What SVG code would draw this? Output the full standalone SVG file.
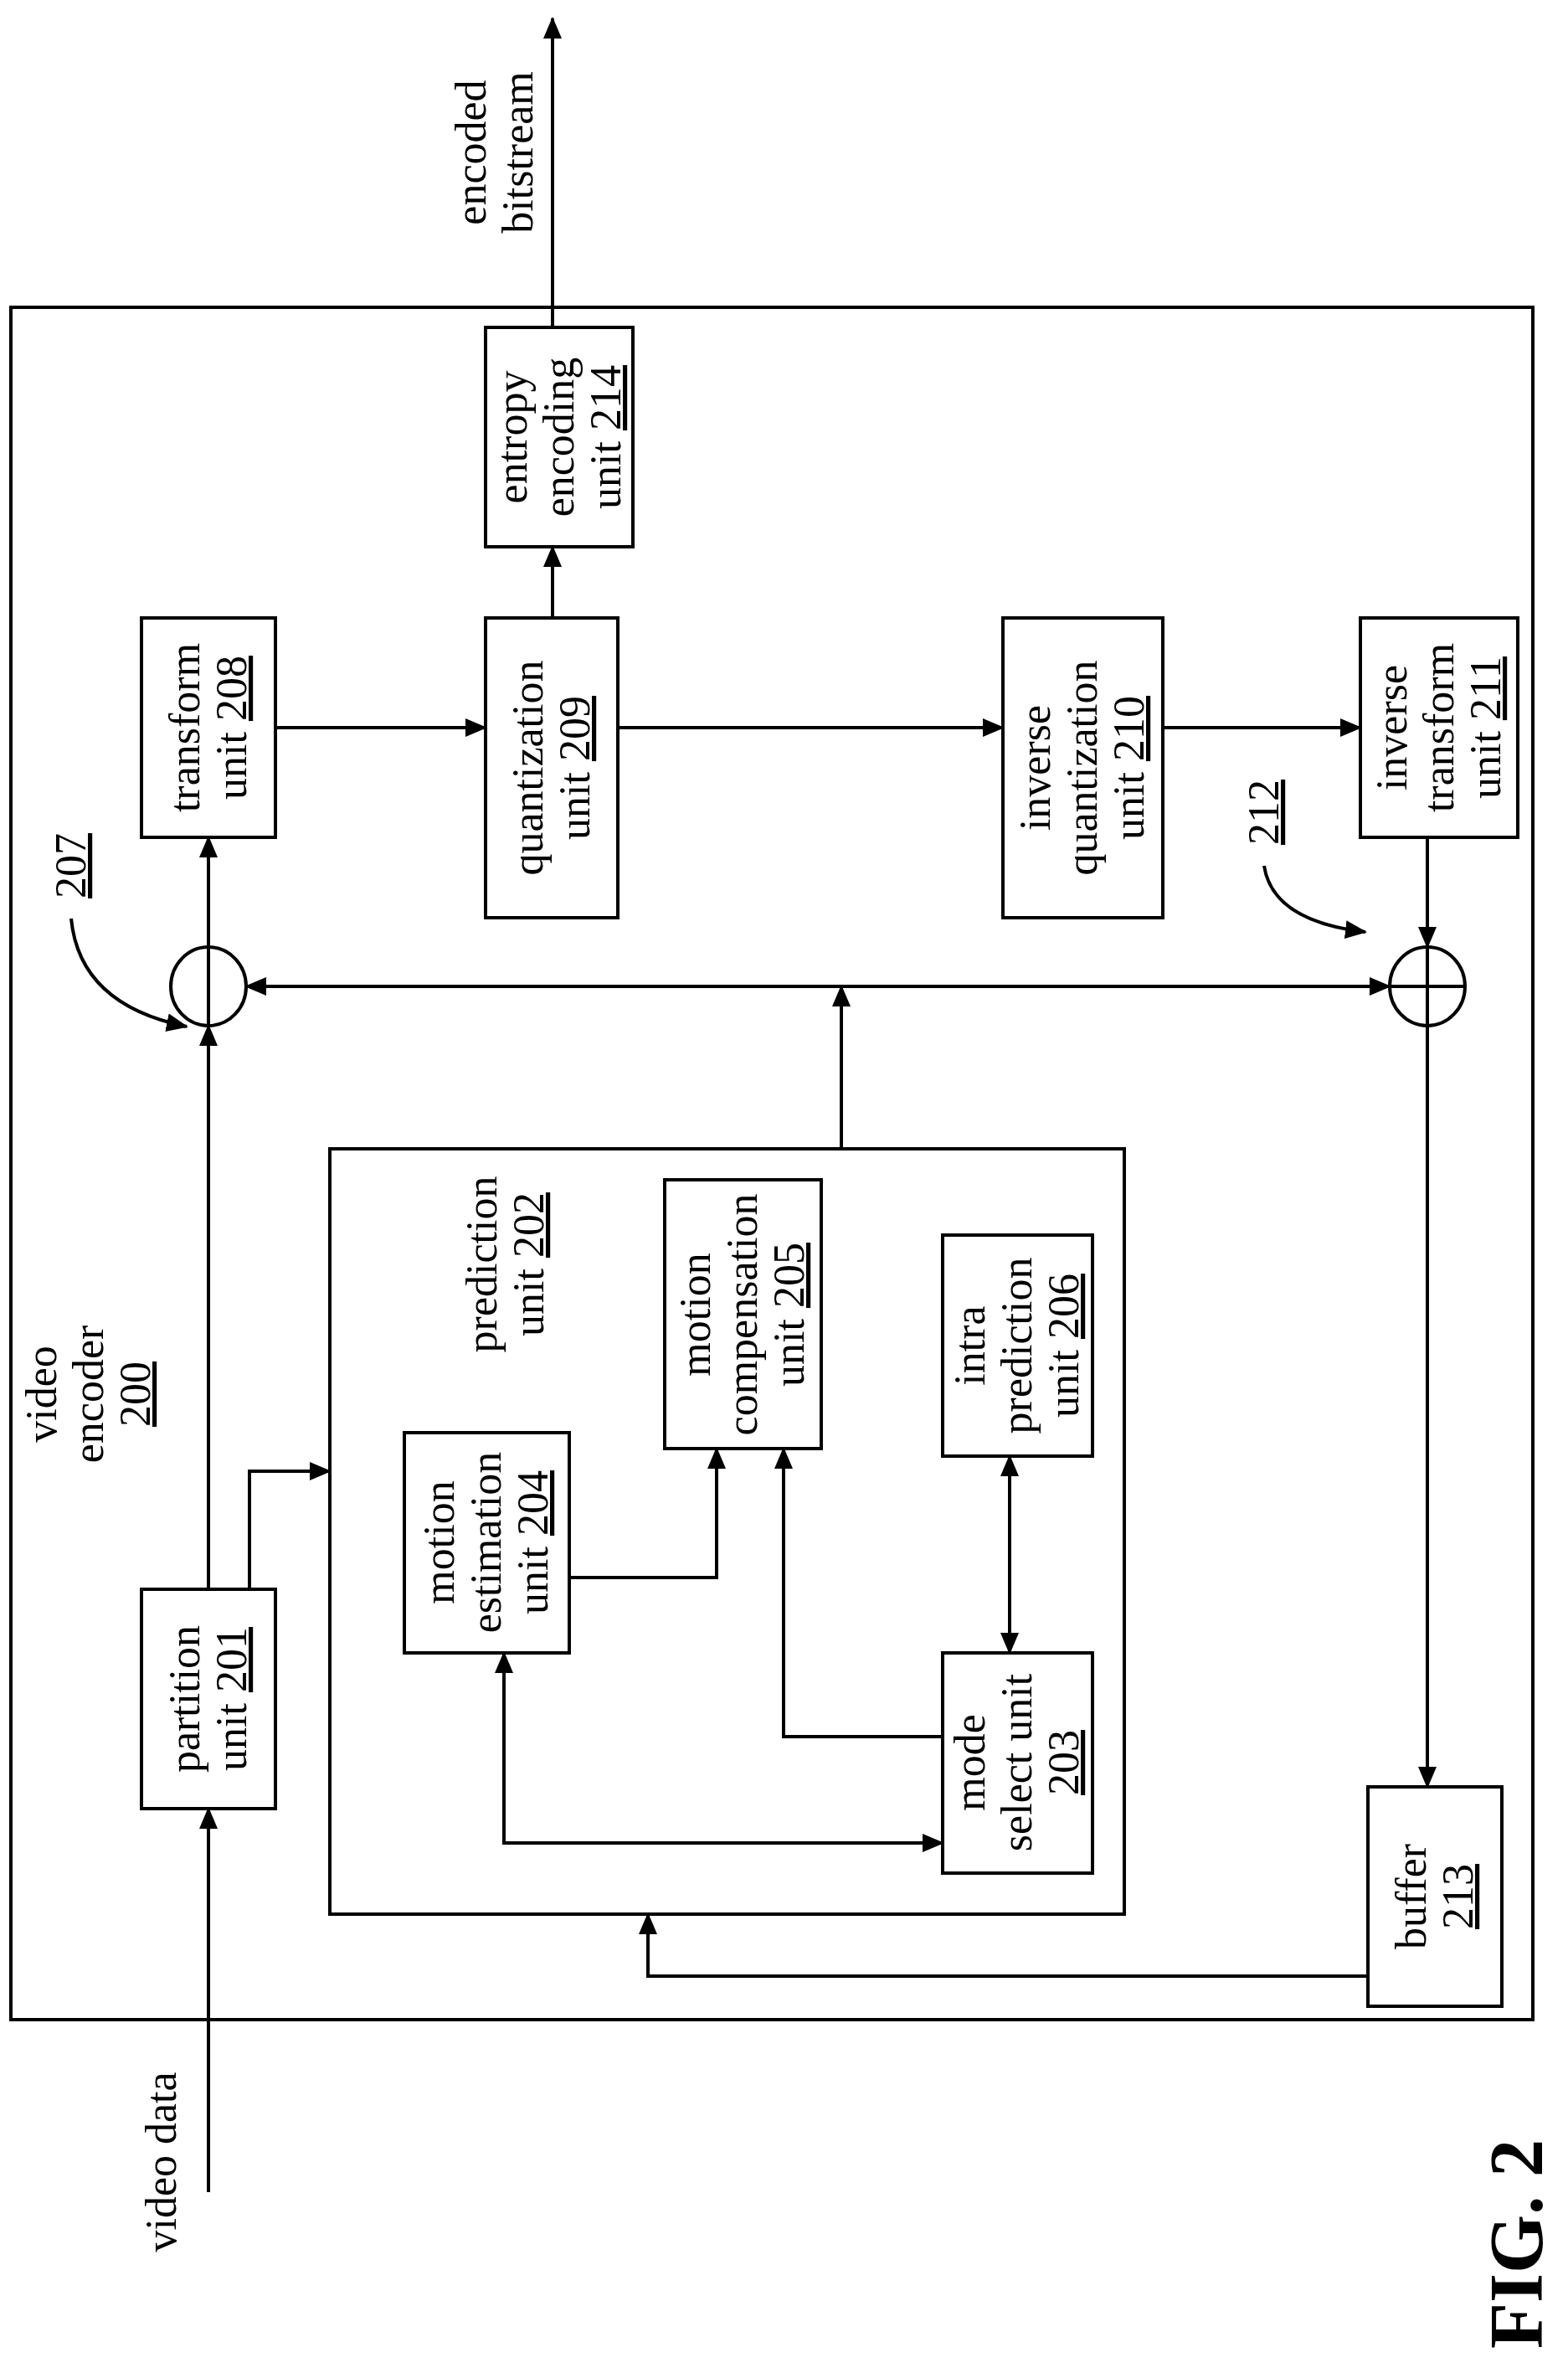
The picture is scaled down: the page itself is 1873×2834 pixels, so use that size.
<svg xmlns="http://www.w3.org/2000/svg" width="1873" height="2834" viewBox="0 0 1873 2834">
<style>
rect,ellipse{fill:#fff;stroke:#000;stroke-width:4}
.c path,.c line,.c polyline{fill:none;stroke:#000;stroke-width:4}
text{font-family:"Liberation Serif",serif;font-size:52px;text-anchor:middle}
.u{text-decoration:underline}
</style>
<defs>
<marker id="a" markerUnits="userSpaceOnUse" markerWidth="26" markerHeight="22" refX="24" refY="11" orient="auto-start-reverse"><path d="M0,0 L26,11 L0,22 Z" fill="#000"/></marker>
</defs>
<rect id="outer" x="13" y="367" width="1818" height="2045"/>
<g id="n214"><rect x="580" y="391" width="176" height="262"/><g transform="translate(668,522) rotate(-90)"><text y="-39">entropy</text><text y="17">encoding</text><text y="73">unit <tspan class="u">214</tspan></text></g></g>
<g id="n208"><rect x="169" y="738" width="160" height="262"/><g transform="translate(249,869) rotate(-90)"><text y="-11">transform</text><text y="45">unit <tspan class="u">208</tspan></text></g></g>
<g id="n209"><rect x="580" y="738" width="158" height="358"/><g transform="translate(659,917) rotate(-90)"><text y="-11">quantization</text><text y="45">unit <tspan class="u">209</tspan></text></g></g>
<g id="n210"><rect x="1198" y="738" width="191" height="358"/><g transform="translate(1293,917) rotate(-90)"><text y="-39">inverse</text><text y="17">quantization</text><text y="73">unit <tspan class="u">210</tspan></text></g></g>
<g id="n211"><rect x="1625" y="738" width="188" height="262"/><g transform="translate(1719,869) rotate(-90)"><text y="-39">inverse</text><text y="17">transform</text><text y="73">unit <tspan class="u">211</tspan></text></g></g>
<g id="n207"><ellipse cx="249" cy="1178" rx="45" ry="47"/><line x1="249" y1="1131" x2="249" y2="1225" stroke="#000" stroke-width="4"/><text transform="translate(85,1034) rotate(-90)" y="17" class="u">207</text></g>
<g id="n212"><ellipse cx="1705" cy="1178" rx="45" ry="47"/><line x1="1705" y1="1131" x2="1705" y2="1225" stroke="#000" stroke-width="4"/><line x1="1660" y1="1178" x2="1750" y2="1178" stroke="#000" stroke-width="4"/><text transform="translate(1510,970) rotate(-90)" y="17" class="u">212</text></g>
<g id="n202"><rect x="394" y="1372" width="949" height="914"/><g transform="translate(604,1510) rotate(-90)"><text y="-11">prediction</text><text y="45">unit <tspan class="u">202</tspan></text></g></g>
<g id="n201"><rect x="169" y="1898" width="160" height="262"/><g transform="translate(249,2029) rotate(-90)"><text y="-11">partition</text><text y="45">unit <tspan class="u">201</tspan></text></g></g>
<g id="n204"><rect x="483" y="1711" width="197" height="263"/><g transform="translate(581,1842) rotate(-90)"><text y="-39">motion</text><text y="17">estimation</text><text y="73">unit <tspan class="u">204</tspan></text></g></g>
<g id="n205"><rect x="794" y="1409" width="187" height="321"/><g transform="translate(887,1570) rotate(-90)"><text y="-39">motion</text><text y="17">compensation</text><text y="73">unit <tspan class="u">205</tspan></text></g></g>
<g id="n206"><rect x="1126" y="1475" width="179" height="264"/><g transform="translate(1215,1607) rotate(-90)"><text y="-39">intra</text><text y="17">prediction</text><text y="73">unit <tspan class="u">206</tspan></text></g></g>
<g id="n203"><rect x="1126" y="1974" width="179" height="263"/><g transform="translate(1215,2105) rotate(-90)"><text y="-39">mode</text><text y="17">select unit</text><text y="73" class="u">203</text></g></g>
<g id="n213"><rect x="1634" y="2134" width="160" height="262"/><g transform="translate(1714,2265) rotate(-90)"><text y="-11">buffer</text><text y="45" class="u">213</text></g></g>
<g class="c">
<line x1="660" y1="391" x2="660" y2="22" marker-end="url(#a)"/>
<line x1="660" y1="738" x2="660" y2="653" marker-end="url(#a)"/>
<line x1="329" y1="869" x2="580" y2="869" marker-end="url(#a)"/>
<line x1="738" y1="869" x2="1198" y2="869" marker-end="url(#a)"/>
<line x1="1389" y1="869" x2="1625" y2="869" marker-end="url(#a)"/>
<line x1="249" y1="1131" x2="249" y2="1000" marker-end="url(#a)"/>
<line x1="1705" y1="1000" x2="1705" y2="1131" marker-end="url(#a)"/>
<line x1="294" y1="1178" x2="1660" y2="1178" marker-start="url(#a)" marker-end="url(#a)"/>
<line x1="1005" y1="1372" x2="1005" y2="1178" marker-end="url(#a)"/>
<line x1="1705" y1="1225" x2="1705" y2="2134" marker-end="url(#a)"/>
<polyline points="1634,2360 774,2360 774,2286" marker-end="url(#a)"/>
<line x1="249" y1="2618" x2="249" y2="2160" marker-end="url(#a)"/>
<line x1="249" y1="1898" x2="249" y2="1225" marker-end="url(#a)"/>
<polyline points="298,1898 298,1757 394,1757" marker-end="url(#a)"/>
<polyline points="680,1884 856,1884 856,1730" marker-end="url(#a)"/>
<polyline points="1126,2074 936,2074 936,1730" marker-end="url(#a)"/>
<polyline points="602,1974 602,2201 1126,2201" marker-start="url(#a)" marker-end="url(#a)"/>
<line x1="1206" y1="1739" x2="1206" y2="1974" marker-start="url(#a)" marker-end="url(#a)"/>
<path d="M85,1097 Q95,1200 223,1226" marker-end="url(#a)"/>
<path d="M1510,1034 Q1520,1100 1631,1113" marker-end="url(#a)"/>
</g>
<g id="labels">
<g transform="translate(106,1665) rotate(-90)"><text y="-39">video</text><text y="17">encoder</text><text y="73" class="u">200</text></g>
<g transform="translate(591,182) rotate(-90)"><text y="-11">encoded</text><text y="45">bitstream</text></g>
<text transform="translate(193,2582) rotate(-90)" y="17">video data</text>
<text transform="translate(1810,2680) rotate(-90)" y="32" style="font-size:90px;font-weight:bold">FIG. 2</text>
</g>
</svg>
